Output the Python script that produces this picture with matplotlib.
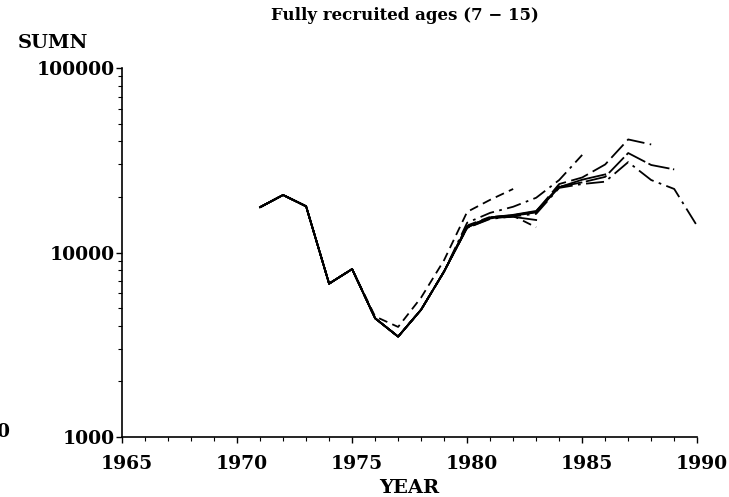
import matplotlib
matplotlib.use("Agg")
import matplotlib.pyplot as plt
from matplotlib.ticker import FixedLocator, NullFormatter
from matplotlib.transforms import ScaledTranslation

plt.rcParams['font.family'] = ['DejaVu Serif']
plt.rcParams['font.weight'] = 'bold'

# retrospective runs: values from 1971 up to each run's terminal year
years_start = 1971
base = [17600, 20500, 17800, 6780, 8130, 4400, 3500, 4900, 7900]  # 1971-1979

run_1982 = [17600, 20500, 17800, 6780, 8130, 4500, 3950, 5700, 9100, 16600, 19300, 22100]
run_1983a = base + [14000, 15600, 15800, 13700]
run_1983b = base + [13900, 15400, 15600, 15000]
run_1984 = base + [13800, 15500, 16000, 16800, 22800]
run_1985 = base + [14500, 16400, 17700, 19800, 24700, 33800]
run_1986 = base + [13700, 15400, 15900, 16600, 22600, 24800, 26500]
run_1988 = base + [13700, 15500, 15900, 16700, 23500, 25500, 30000, 41000, 38500]
run_1989 = base + [13600, 15300, 15800, 16500, 22700, 24000, 25700, 34600, 29800, 28200]
run_1990 = base + [13600, 15200, 15700, 16200, 22400, 23500, 24200, 30900, 24700, 22100, 13900]

x_ticks = [1965, 1970, 1975, 1980, 1985, 1990]
x_labels = ['1965', '1970', '1975', '1980', '1985', '1990']
y_ticks = [1000, 10000, 100000]
y_labels = ['1000', '10000', '100000']

runs = [
    (run_1982, (0, (5, 3))),
    (run_1983a, (0, (5, 3))),
    (run_1983b, '-'),
    (run_1984, '-'),
    (run_1985, (0, (8, 3, 1.5, 3))),
    (run_1986, '-'),
    (run_1988, (0, (10, 3))),
    (run_1989, (0, (12, 2))),
    (run_1990, (0, (10, 3, 1.5, 3))),
]

fig = plt.figure(figsize=(7.29, 4.97), dpi=100)
ax = fig.add_axes([0.1674, 0.1207, 0.789, 0.7425])

for vals, ls in runs:
    yrs = list(range(years_start, years_start + len(vals)))
    ax.plot(yrs, vals, color='black', lw=1.3, linestyle=ls)

ax.set_yscale('log')
ax.set_ylim(1000, 100000)
ax.set_xlim(1965, 1990)

ax.spines['top'].set_visible(False)
ax.spines['right'].set_visible(False)
ax.spines['left'].set_linewidth(1.2)
ax.spines['bottom'].set_linewidth(1.2)

ax.xaxis.set_major_locator(FixedLocator(x_ticks))
ax.xaxis.set_minor_locator(FixedLocator(list(range(1965, 1991))))
ax.set_xticklabels(x_labels)
ax.yaxis.set_major_locator(FixedLocator(y_ticks))
ax.set_yticklabels(y_labels)
minor_y = [m * 10 ** e for e in (3, 4) for m in range(2, 10)]
ax.yaxis.set_minor_locator(FixedLocator(minor_y))
ax.yaxis.set_minor_formatter(NullFormatter())

ax.tick_params(axis='both', which='major', length=4, width=1.0, labelsize=13.5)
ax.tick_params(axis='y', which='major', pad=1.5)
ax.tick_params(axis='x', which='major', pad=9)
ax.tick_params(axis='both', which='minor', length=3, width=0.8)

offset = ScaledTranslation(5 / 100, 0, fig.dpi_scale_trans)
for lab in ax.get_xticklabels():
    lab.set_transform(lab.get_transform() + offset)

ax.set_xlabel('YEAR', fontsize=14, fontweight='bold', labelpad=4)
fig.text(0.025, 0.895, 'SUMN', fontsize=14, fontweight='bold', ha='left', va='bottom')
fig.text(0.555, 0.968, 'Fully recruited ages (7 \u2212 15)', fontsize=12, fontweight='bold',
         ha='center', va='center')
fig.text(-0.005, 0.13, '0', fontsize=13.5, fontweight='bold', ha='left', va='center')

fig.savefig('out.png', dpi=100)
